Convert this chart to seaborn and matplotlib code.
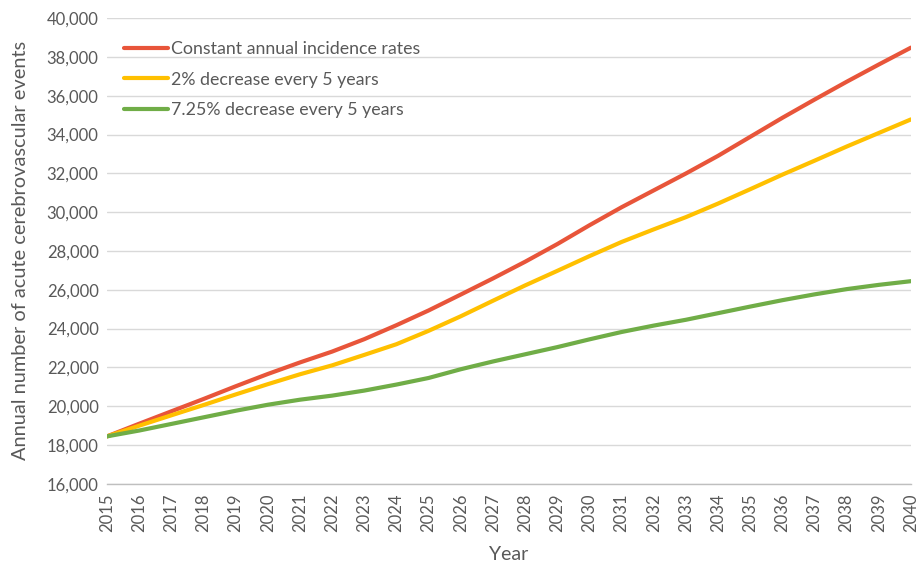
import matplotlib
matplotlib.use("Agg")
import matplotlib.pyplot as plt
from matplotlib.ticker import FuncFormatter, MultipleLocator
import seaborn as sns
import pandas as pd

years = list(range(2015, 2041))

constant_rates = [18440, 19090, 19730, 20365, 21020, 21655, 22250, 22810, 23450, 24170,
                  24930, 25750, 26580, 27440, 28350, 29320, 30250, 31120, 31990, 32900,
                  33880, 34860, 35800, 36720, 37610, 38480]
decrease_2pct = [18440, 18990, 19525, 20055, 20600, 21130, 21640, 22100, 22640, 23190,
                 23880, 24630, 25430, 26220, 26970, 27730, 28460, 29110, 29740, 30440,
                 31180, 31930, 32650, 33380, 34080, 34780]
decrease_725pct = [18440, 18740, 19080, 19420, 19760, 20070, 20330, 20540, 20800, 21110,
                   21450, 21900, 22300, 22670, 23040, 23440, 23820, 24150, 24450, 24790,
                   25130, 25460, 25760, 26030, 26250, 26440]

series_names = ["Constant annual incidence rates",
                "2% decrease every 5 years",
                "7.25% decrease every 5 years"]
colors = ["#E8553A", "#FFC000", "#70AD47"]

df = pd.DataFrame({
    "year": years * 3,
    "events": constant_rates + decrease_2pct + decrease_725pct,
    "scenario": [series_names[0]] * len(years) + [series_names[1]] * len(years)
                + [series_names[2]] * len(years),
})

sns.set_theme(style="white")
plt.rcParams["font.family"] = ["Lato", "DejaVu Sans"]
text_color = "#595959"

fig = plt.figure(figsize=(9.19, 5.66), dpi=100)
ax = fig.add_axes([0.1164, 0.1454, 0.8749, 0.8226])

sns.lineplot(ax=ax, data=df, x="year", y="events", hue="scenario",
             palette=dict(zip(series_names, colors)), linewidth=3)

ax.set_xlim(2015, 2040)
ax.set_ylim(16000, 40000)
ax.yaxis.set_major_locator(MultipleLocator(2000))
ax.yaxis.set_major_formatter(FuncFormatter(lambda v, p: f"{int(v):,}"))
ax.set_xticks(years)
ax.set_xticklabels([str(y) for y in years], rotation=90)

ax.yaxis.grid(True, color="#D9D9D9", linewidth=1)
ax.set_axisbelow(True)
for side in ["top", "right", "left"]:
    ax.spines[side].set_visible(False)
ax.spines["bottom"].set_color("#BFBFBF")
ax.spines["bottom"].set_linewidth(1)
ax.tick_params(axis="x", direction="out", length=5, color="#BFBFBF", width=1,
               labelsize=12, labelcolor=text_color, pad=2)
ax.tick_params(axis="y", length=0, labelsize=12, labelcolor=text_color, pad=6)

ax.set_xlabel("Year", fontsize=14, color=text_color, labelpad=10)
ax.set_ylabel("Annual number of acute cerebrovascular events", fontsize=14.4,
              color=text_color)
ax.yaxis.set_label_coords(-0.097, 0.5)

ax.legend(title="", loc="upper left", frameon=False, fontsize=12.8,
          handlelength=2.5, handletextpad=0.15, labelspacing=0.82,
          borderaxespad=0.0, bbox_to_anchor=(0.012, 0.966),
          labelcolor=text_color)

plt.savefig("out.png", dpi=100)
